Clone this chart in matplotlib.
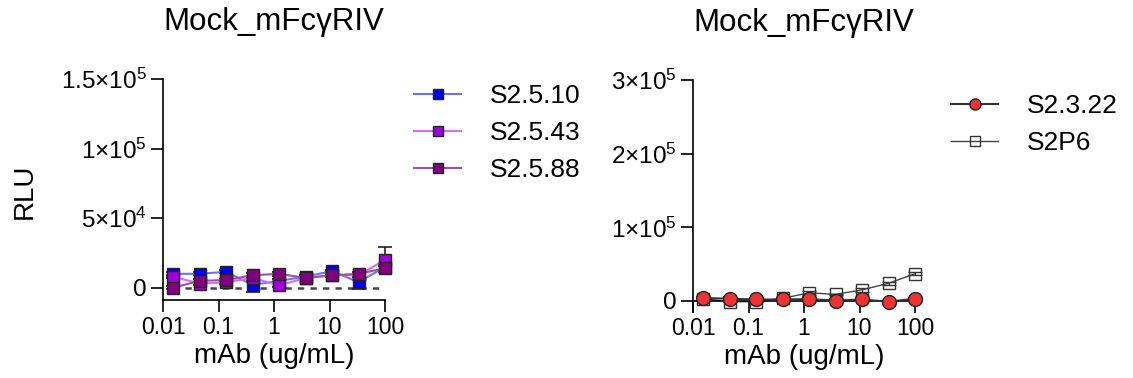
import matplotlib
matplotlib.use("Agg")
import matplotlib.pyplot as plt
import numpy as np

plt.rcParams['font.family'] = ['Liberation Sans', 'DejaVu Sans']
plt.rcParams['mathtext.fontset'] = 'custom'
plt.rcParams['mathtext.rm'] = 'Liberation Sans'
plt.rcParams['mathtext.it'] = 'Liberation Sans'

# Data
doses = [0.01524, 0.0457, 0.1372, 0.4115, 1.235, 3.704, 11.11, 33.33, 100.0]

left_names = ["S2.5.10", "S2.5.43", "S2.5.88"]
s2510 = [10000, 10000, 11500, 2000, 5000, 8000, 12000, 4000, 15000]
s2510_err = [1500, 1000, 1000, 5000, 1500, 1000, 1000, 5000, 2000]
s2543 = [8000, 3000, 4000, 7000, 1700, 7000, 9000, 9000, 20000]
s2543_err = [1000, 1000, 1000, 1500, 1500, 1000, 1000, 1000, 9000]
s2588 = [0, 5000, 5500, 9000, 10000, 7000, 9000, 10000, 14000]
s2588_err = [1000, 1000, 1000, 1500, 1500, 1000, 1000, 1000, 1500]

right_names = ["S2.3.22", "S2P6"]
s2322 = [4000, 3000, 2000, 2000, 2500, 500, 2000, -1000, 3000]
s2322_err = [2000, 3000, 2000, 2000, 3000, 2000, 2000, 1000, 1000]
s2p6 = [3000, -1000, -1000, 3600, 11000, 9000, 15000, 24000, 37000]
s2p6_err = [1000, 1000, 1000, 1000, 3000, 1000, 3000, 2000, 2000]

title = "Mock_mFcγRIV"
xlabel = "mAb (ug/mL)"
ylabel = "RLU"
xticks = [0.01, 0.1, 1, 10, 100]
xticklabels = ["0.01", "0.1", "1", "10", "100"]
left_yticks = [0, 50000, 100000, 150000]
left_yticklabels = ["0", r"$5{\times}10^4$", r"$1{\times}10^5$", r"$1.5{\times}10^5$"]
right_yticks = [0, 100000, 200000, 300000]
right_yticklabels = ["0", r"$1{\times}10^5$", r"$2{\times}10^5$", r"$3{\times}10^5$"]

W, H = 1133, 378
fig = plt.figure(figsize=(W / 100, H / 100), dpi=100)

def style_axes(ax):
    ax.set_xscale('log')
    ax.set_xlim(0.01, 100)
    ax.set_xticks(xticks)
    ax.set_xticklabels(xticklabels)
    ax.minorticks_off()
    for s in ['top', 'right']:
        ax.spines[s].set_visible(False)
    for s in ['left', 'bottom']:
        ax.spines[s].set_linewidth(1.2)
    ax.tick_params(axis='both', length=8.5, width=1.2, pad=3)
    ax.tick_params(axis='x', labelsize=16.5)
    ax.tick_params(axis='y', labelsize=17.5)
    ax.set_xlabel(xlabel, fontsize=20, labelpad=3)
    ax.set_title(title, fontsize=22.5, pad=35)

# Left panel
ax1 = fig.add_axes([163 / W, 1 - 300 / H, 222 / W, 221 / H])
style_axes(ax1)
ax1.set_ylim(-8800, 150000)
ax1.set_yticks(left_yticks)
ax1.set_yticklabels(left_yticklabels)
ax1.set_ylabel(ylabel, fontsize=20)
ax1.yaxis.set_label_coords(-0.565, 0.49)
ax1.plot([0.025, 100], [0, 0], ls=(0, (2.5, 2.5)), color='#444444', lw=1.8, zorder=1)

left_series = [
    (s2510, s2510_err, '#0000FF', '#7070FF'),
    (s2543, s2543_err, '#A000E0', '#D070F0'),
    (s2588, s2588_err, '#800080', '#A050A0'),
]
handles1 = []
for name, (vals, err, mc, lc) in zip(left_names, left_series):
    ax1.errorbar(doses, vals, yerr=err, fmt='none', ecolor='#222222', elinewidth=1.2,
                 capsize=5, capthick=1.2, zorder=2, clip_on=False)
    h, = ax1.plot(doses, vals, color=lc, lw=1.5, marker='s', markersize=9,
                  markerfacecolor=mc, markeredgecolor='#222222', markeredgewidth=1.0,
                  zorder=3, clip_on=False, label=name)
    handles1.append(h)

leg_kw = dict(frameon=False, fontsize=19, handlelength=1.8, handletextpad=1.1,
              labelspacing=0.5, loc='upper left')
leg1 = fig.legend(handles=handles1, bbox_to_anchor=(390 / W, 1 - 60 / H),
                  markerscale=0.75, **leg_kw)

# Right panel
ax2 = fig.add_axes([693 / W, 1 - 312 / H, 222 / W, 232 / H])
style_axes(ax2)
ax2.set_ylim(-15000, 300000)
ax2.spines['bottom'].set_position(('data', 0))
ax2.set_yticks(right_yticks)
ax2.set_yticklabels(right_yticklabels)

ax2.errorbar(doses, s2p6, yerr=s2p6_err, fmt='none', ecolor='#333333', elinewidth=1.0,
             capsize=5, capthick=1.0, zorder=2, clip_on=False)
h2b, = ax2.plot(doses, s2p6, color='#444444', lw=1.0, marker='s', markersize=9,
                markerfacecolor='none', markeredgecolor='#333333', markeredgewidth=1.0,
                zorder=2, clip_on=False, label=right_names[1])
ax2.errorbar(doses, s2322, yerr=s2322_err, fmt='none', ecolor='#222222', elinewidth=1.2,
             capsize=5, capthick=1.2, zorder=3, clip_on=False)
h2a, = ax2.plot(doses, s2322, color='#333333', lw=1.5, marker='o', markersize=10,
                markerfacecolor='#EE3333', markeredgecolor='#222222', markeredgewidth=1.0,
                zorder=4, clip_on=False, label=right_names[0])

leg2 = fig.legend(handles=[h2a, h2b], bbox_to_anchor=(927 / W, 1 - 70 / H),
                  markerscale=0.8, **leg_kw)

fig.savefig("out.png", dpi=100)
